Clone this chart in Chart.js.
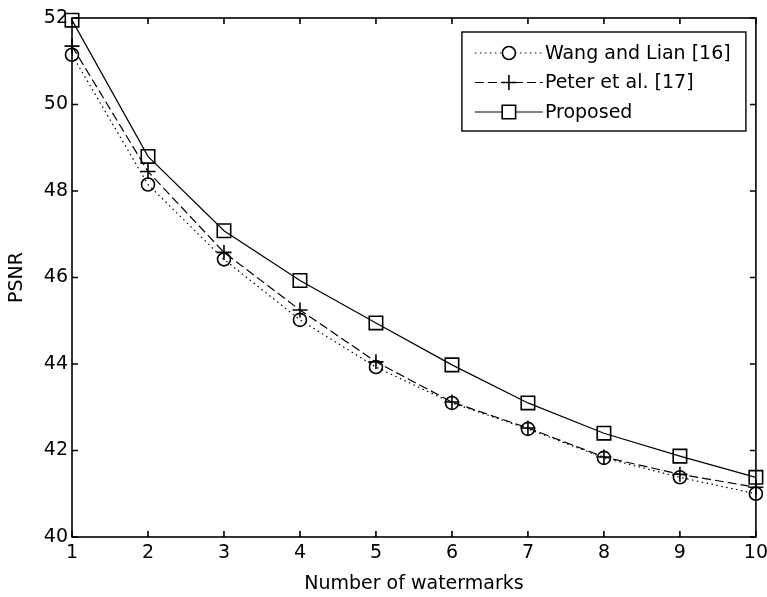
<!DOCTYPE html>
<html>
<head>
<meta charset="utf-8">
<script src="https://cdn.jsdelivr.net/npm/chart.js@4/dist/chart.umd.min.js"></script>
<style>
  html, body { margin:0; padding:0; background:#fff; }
  #wrap { width:767px; height:597px; }
</style>
</head>
<body>
<div id="wrap"><canvas id="psnr"></canvas></div>
<script>
// data
const watermarks = [1, 2, 3, 4, 5, 6, 7, 8, 9, 10];
const wangLian   = [51.15, 48.15, 46.42, 45.02, 43.93, 43.10, 42.50, 41.83, 41.38, 41.00];
const peterEtAl  = [51.35, 48.45, 46.58, 45.25, 44.05, 43.12, 42.52, 41.85, 41.45, 41.15];
const proposed   = [51.95, 48.80, 47.08, 45.93, 44.95, 43.98, 43.10, 42.40, 41.87, 41.38];
const labels     = ["Wang and Lian [16]", "Peter et al. [17]", "Proposed"];
const yTicks     = [40, 42, 44, 46, 48, 50, 52];

const FONT = "DejaVu Sans";
const pts = ys => watermarks.map((x, i) => ({ x, y: ys[i] }));

const base = {
  borderColor: "#000",
  borderWidth: 1.2,
  pointBorderColor: "#000",
  pointBackgroundColor: "rgba(0,0,0,0)",
  pointBorderWidth: 1.6,
  tension: 0,
  fill: false,
  clip: false
};

const datasets = [
  { ...base, label: labels[0], data: pts(wangLian),  borderDash: [1.5, 3.5], pointStyle: "circle", pointRadius: 6.5 },
  { ...base, label: labels[1], data: pts(peterEtAl), borderDash: [9, 4],     pointStyle: "cross",  pointRadius: 7.5 },
  { ...base, label: labels[2], data: pts(proposed),  borderDash: [],         pointStyle: "rect",   pointRadius: 9.5 }
];

// box, inward ticks on all four sides, and the boxed legend
const matlabFrame = {
  id: "matlabFrame",
  afterDatasetsDraw(chart) {
    const { ctx, chartArea: a, scales } = chart;
    ctx.save();
    ctx.strokeStyle = "#000";
    ctx.lineWidth = 1.6;
    ctx.strokeRect(a.left, a.top, a.right - a.left, a.bottom - a.top);
    const tl = 6;
    ctx.beginPath();
    scales.x.ticks.forEach(t => {
      const px = scales.x.getPixelForValue(t.value);
      ctx.moveTo(px, a.bottom); ctx.lineTo(px, a.bottom - tl);
      ctx.moveTo(px, a.top);    ctx.lineTo(px, a.top + tl);
    });
    scales.y.ticks.forEach(t => {
      const py = scales.y.getPixelForValue(t.value);
      ctx.moveTo(a.left, py);  ctx.lineTo(a.left + tl, py);
      ctx.moveTo(a.right, py); ctx.lineTo(a.right - tl, py);
    });
    ctx.stroke();

    // legend
    const lx = a.right - 294, ly = a.top + 14, lw = 284, lh = 99;
    ctx.fillStyle = "#fff";
    ctx.fillRect(lx, ly, lw, lh);
    ctx.lineWidth = 1.4;
    ctx.strokeRect(lx, ly, lw, lh);
    ctx.font = "19px '" + FONT + "'";
    ctx.textBaseline = "middle";
    chart.data.datasets.forEach((ds, i) => {
      const y = ly + 21 + i * 29.5;
      ctx.save();
      ctx.strokeStyle = "#000";
      ctx.lineWidth = ds.borderWidth;
      ctx.setLineDash(ds.borderDash || []);
      ctx.beginPath();
      ctx.moveTo(lx + 13, y); ctx.lineTo(lx + 81, y);
      ctx.stroke();
      ctx.restore();
      ctx.save();
      ctx.fillStyle = "#fff";
      ctx.strokeStyle = "#000";
      ctx.lineWidth = ds.pointBorderWidth;
      Chart.helpers.drawPoint(ctx, {
        pointStyle: ds.pointStyle, radius: ds.pointRadius, borderWidth: ds.pointBorderWidth
      }, lx + 47, y);
      ctx.restore();
      ctx.fillStyle = "#000";
      ctx.fillText(ds.label, lx + 83, y + 1);
    });
    ctx.restore();
  }
};

new Chart(document.getElementById("psnr"), {
  type: "line",
  data: { datasets },
  options: {
    responsive: true,
    maintainAspectRatio: false,
    animation: false,
    layout: { padding: { top: 18, right: 11, left: 0, bottom: 0 } },
    plugins: { legend: { display: false }, tooltip: { enabled: false } },
    scales: {
      x: {
        type: "linear",
        min: 1, max: 10,
        grid: { display: false, drawTicks: false },
        border: { display: false },
        ticks: { stepSize: 1, padding: 5, color: "#000", font: { family: FONT, size: 19 } },
        title: { display: true, text: "Number of watermarks", color: "#000",
                 font: { family: FONT, size: 19 }, padding: { top: 0, bottom: 2 } },
        afterFit: s => { s.height = 60; s.paddingRight = 4; s.paddingLeft = 4; }
      },
      y: {
        min: 40, max: 52,
        grid: { display: false, drawTicks: false },
        border: { display: false },
        afterBuildTicks: s => { s.ticks = yTicks.map(v => ({ value: v })); },
        ticks: { padding: 4, color: "#000", font: { family: FONT, size: 19 } },
        title: { display: true, text: "PSNR", color: "#000",
                 font: { family: FONT, size: 19 }, padding: { top: 6, bottom: 0 } },
        afterFit: s => { s.width = 72; s.paddingTop = 4; s.paddingBottom = 4; }
      }
    }
  },
  plugins: [matlabFrame]
});
</script>
</body>
</html>
